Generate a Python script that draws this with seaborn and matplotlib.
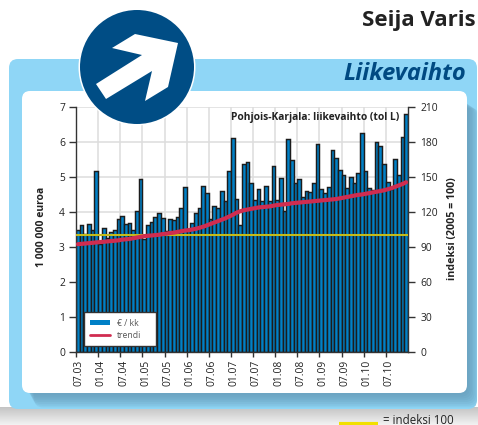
import numpy as np
import pandas as pd
import matplotlib
matplotlib.use("Agg")
import matplotlib.pyplot as plt
import seaborn as sns
from matplotlib.patches import FancyBboxPatch, Circle, Polygon, Patch
from matplotlib.lines import Line2D

## values
bar_values = [3.50, 3.62, 3.38, 3.67, 3.50, 5.17, 3.10, 3.55, 3.27, 3.43,
              3.50, 3.79, 3.88, 3.67, 3.70, 3.50, 4.03, 4.93, 3.24, 3.62,
              3.72, 3.86, 3.98, 3.84, 3.47, 3.80, 3.76, 3.86, 4.12, 4.72,
              3.52, 3.69, 3.97, 4.12, 4.74, 4.55, 3.81, 4.16, 4.11, 4.59,
              4.32, 5.17, 6.12, 4.38, 3.64, 5.38, 5.42, 4.83, 4.34, 4.65,
              4.32, 4.74, 4.32, 5.32, 4.34, 4.97, 4.04, 6.08, 5.50, 4.82,
              4.93, 4.43, 4.60, 4.57, 4.84, 5.93, 4.65, 4.55, 4.72, 5.76,
              5.55, 5.21, 5.05, 4.70, 5.00, 4.82, 5.12, 6.27, 5.17, 4.69,
              4.62, 5.99, 5.88, 5.38, 4.86, 4.67, 5.51, 5.07, 6.15, 6.79]
trend_values = [3.08, 3.09, 3.10, 3.11, 3.12, 3.13, 3.14, 3.15, 3.16, 3.17,
                3.18, 3.19, 3.21, 3.22, 3.23, 3.25, 3.27, 3.29, 3.31, 3.32,
                3.33, 3.34, 3.35, 3.37, 3.38, 3.40, 3.41, 3.43, 3.45, 3.47,
                3.48, 3.50, 3.52, 3.55, 3.58, 3.62, 3.66, 3.70, 3.74, 3.78,
                3.82, 3.87, 3.92, 3.98, 4.02, 4.05, 4.07, 4.09, 4.11, 4.13,
                4.14, 4.15, 4.16, 4.18, 4.20, 4.21, 4.22, 4.23, 4.25, 4.26,
                4.27, 4.28, 4.29, 4.30, 4.31, 4.32, 4.33, 4.34, 4.35, 4.36,
                4.37, 4.39, 4.41, 4.43, 4.45, 4.47, 4.49, 4.50, 4.52, 4.54,
                4.56, 4.58, 4.60, 4.62, 4.65, 4.68, 4.72, 4.76, 4.80, 4.85]
tick_labels = ["07.03", "01.04", "07.04", "01.05", "07.05", "01.06", "07.06", "01.07",
               "07.07", "01.08", "07.08", "01.09", "07.09", "01.10", "07.10"]
left_ticks = [0, 1, 2, 3, 4, 5, 6, 7]
right_ticks = [0, 30, 60, 90, 120, 150, 180, 210]
index_100 = 100

df = pd.DataFrame({"month": range(len(bar_values)), "euro": bar_values, "trend": trend_values})

sns.set_theme(style="white")
plt.rcParams["font.family"] = ["Open Sans", "DejaVu Sans"]
text_col = "#222222"

fig = plt.figure(figsize=(4.78, 4.25), dpi=100, facecolor="white")


def px_axes(zorder):
    a = fig.add_axes([0, 0, 1, 1], zorder=zorder)
    a.set_xlim(0, 478)
    a.set_ylim(425, 0)
    a.axis("off")
    a.patch.set_alpha(0)
    return a


## background panel
bg = px_axes(0)
# grey shadow under the panel
grad = np.linspace(0, 1, 30).reshape(-1, 1)
bg.imshow(grad, extent=(0, 478, 425, 407), cmap=matplotlib.colors.LinearSegmentedColormap.from_list("g", ["#c4c4c4", "#f2f2f2"]),
          aspect="auto", zorder=0)
bg.set_xlim(0, 478)
bg.set_ylim(425, 0)
panel = FancyBboxPatch((9, 59), 468, 350, boxstyle="round,pad=0,rounding_size=9",
                       fc="#8fd6f6", ec="none", zorder=1)
bg.add_patch(panel)
# dark soft shadow of the white box
for off in range(9):
    sh = FancyBboxPatch((26 + off, 100 + off), 441 + off * 0.5, 293 + off * 0.8,
                        boxstyle="round,pad=0,rounding_size=9",
                        fc="#6498b5", ec="none", alpha=0.16, zorder=2)
    bg.add_patch(sh)
    sh.set_clip_path(panel)
bg.add_patch(FancyBboxPatch((22, 91), 445, 302, boxstyle="round,pad=0,rounding_size=8",
                            fc="white", ec="none", zorder=3))
bg.text(466, 74, "Liikevaihto", ha="right", va="center", fontsize=17, fontweight="bold",
        fontstyle="italic", color="#004a82", zorder=4)
bg.text(476, 20, "Seija Varis", ha="right", va="center", fontsize=16, fontweight="bold",
        color=text_col, zorder=4)
bg.plot([339, 378], [424, 424], color="#f2e000", lw=3, solid_capstyle="butt", zorder=4)
bg.text(383, 420, "= indeksi 100", ha="left", va="center", fontsize=8.3, color=text_col, zorder=4)

## chart
ax = fig.add_axes([76 / 478, 1 - 352 / 425, 332 / 478, 245 / 425], zorder=1)
ax.patch.set_alpha(0)
ax.set_axisbelow(True)
sns.barplot(data=df, x="month", y="euro", width=1, color="#0080c6", saturation=1,
            edgecolor="#1c1c1c", linewidth=1.05, ax=ax)
ax.axhline(index_100 * 7 / 210, color="#c4bb1a", lw=1.5, zorder=4)
sns.lineplot(data=df, x="month", y="trend", color="#d02c50", lw=3, ax=ax, zorder=5)
ax.set_xlim(-0.5, len(bar_values) - 0.5)
ax.set_ylim(0, 7)

tick_pos = np.arange(len(tick_labels)) * 6 - 0.5
ax.set_xticks(tick_pos)
ax.set_xticklabels([])
ax.set_xticks(tick_pos + 0.9, minor=True)
ax.set_xticklabels(tick_labels, minor=True, rotation=90, fontsize=7.4, color=text_col)
ax.tick_params(axis="x", which="major", length=3.5, width=1, color="#333333", bottom=True)
ax.tick_params(axis="x", which="minor", length=0, pad=5.5, bottom=False)
ax.set_yticks(left_ticks)
ax.tick_params(axis="y", length=5, width=1, color="#333333", left=True, labelsize=7.4,
               labelcolor=text_col, pad=3)
ax.grid(True, which="major", color="#dddddd", lw=1.1)
ax.set_xlabel("")
ax.set_ylabel("")
for s in ["top"]:
    ax.spines[s].set_visible(False)
for s in ["left", "right", "bottom"]:
    ax.spines[s].set_color("#333333")
    ax.spines[s].set_linewidth(1)

ax2 = ax.twinx()
ax2.set_ylim(0, 210)
ax2.set_yticks(right_ticks)
ax2.grid(False)
ax2.tick_params(axis="y", length=5, width=1, color="#333333", right=True, labelsize=7.4,
                labelcolor=text_col, pad=4)
ax2.spines["top"].set_visible(False)
for s in ["left", "right", "bottom"]:
    ax2.spines[s].set_visible(False)

ax.text(0.975, 0.957, "Pohjois-Karjala: liikevaihto (tol L)", transform=ax.transAxes, ha="right",
        va="center", fontsize=7.4, fontweight="bold", color=text_col, zorder=6)
fig.text(41 / 478, 1 - 227 / 425, "1 000 000 euroa", rotation=90, ha="center", va="center",
         fontsize=7.5, fontweight="bold", color=text_col)
fig.text(453 / 478, 1 - 229 / 425, "indeksi (2005 = 100)", rotation=90, ha="center", va="center",
         fontsize=7.7, fontweight="bold", color=text_col)

# mode="expand" keeps the box wider than its text, like the original
leg = ax.legend(handles=[Patch(fc="#0080c6", ec="none", label="€ / kk"),
                         Line2D([0], [0], color="#d02c50", lw=2, label="trendi")],
                loc="lower left", bbox_to_anchor=(8 / 332, 6 / 245, 72 / 332, 34 / 245), mode="expand",
                fontsize=6.2, fancybox=False, borderaxespad=0, labelcolor="#555555", handlelength=2.3,
                handleheight=0.5, borderpad=0.75, labelspacing=0.35, handletextpad=0.8, framealpha=1)
leg.get_frame().set_edgecolor("#333333")
leg.get_frame().set_linewidth(1)
leg.set_zorder(7)

## round sign on top of everything
top = px_axes(3)
top.add_patch(Circle((137, 67), 58.5, fc="white", ec="none"))
top.add_patch(Circle((137, 67), 57, fc="#004d85", ec="none"))
top.add_patch(Polygon([(178, 43), (135, 34), (112, 48), (142, 55), (96, 84), (106, 99),
                       (152, 71), (145, 101), (168, 87)], fc="white", ec="none"))

fig.savefig("out.png", dpi=100)
